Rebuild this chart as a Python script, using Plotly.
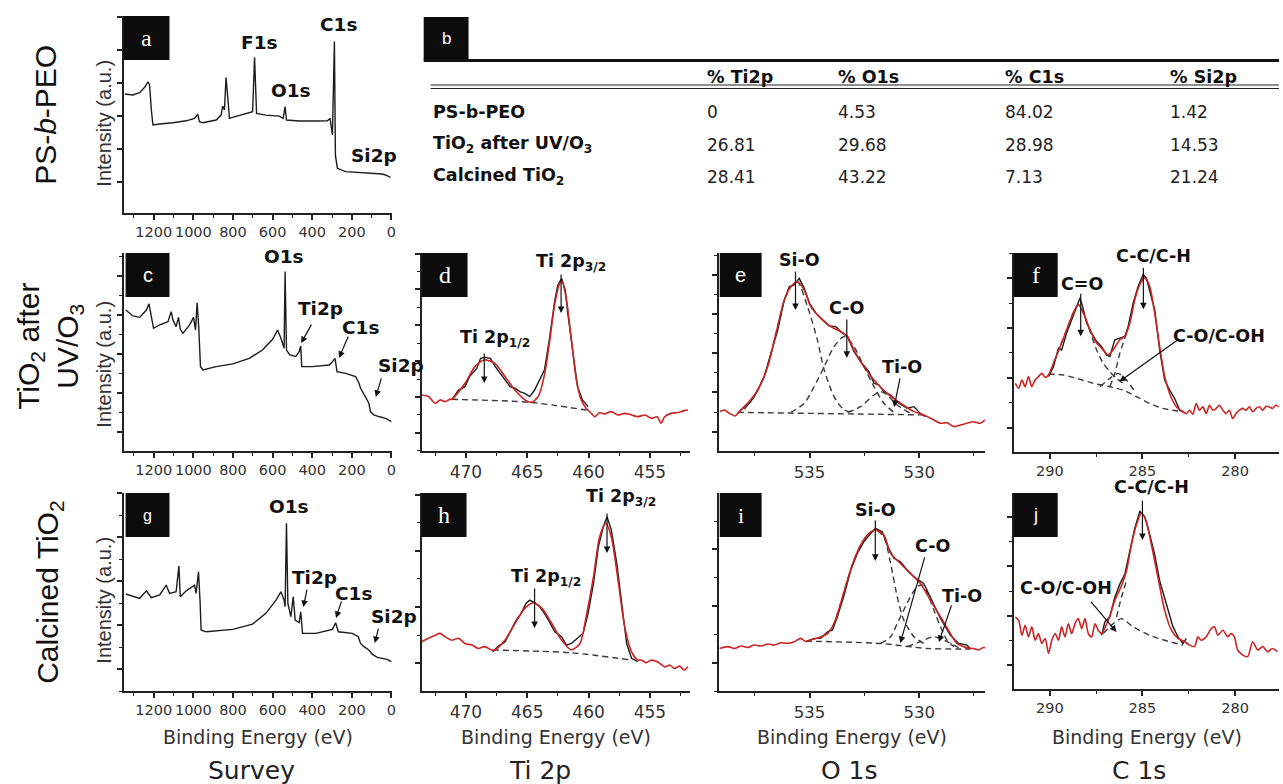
import plotly.graph_objects as go

W, H = 1283, 784

# ---------------- Survey spectra (binding energy in eV, intensity a.u.) ----------------
survey_a_ev = [1346, 1305, 1271, 1246, 1229, 1221, 1212, 1204, 1170, 1103, 1036, 994, 978, 969, 952, 885, 860, 852, 843, 835,
               825, 818, 802, 734, 701, 691, 681, 634, 567, 547, 537, 530, 466, 382, 324, 310, 298, 293, 288, 283,
               273, 231, 131, 47, 30, 5]
survey_a_int = [60.4, 59.9, 61.1, 63.8, 66.6, 65.0, 52.3, 44.7, 45.2, 45.8, 46.8, 48.0, 50.2, 46.3, 45.8, 47.2, 49.7, 54.3, 52.3, 68.8,
                57.3, 48.0, 48.5, 50.6, 51.4, 79.0, 50.6, 49.7, 49.2, 48.0, 54.0, 47.2, 46.7, 46.7, 46.8, 48.0, 39.6, 63.3, 87.0, 29.4,
                22.7, 21.0, 20.5, 19.8, 19.3, 18.1]

survey_c_ev = [1341, 1305, 1271, 1237, 1224, 1212, 1201, 1170, 1128, 1112, 1103, 1087, 1075, 1066, 1053, 1019, 999, 989, 981, 973,
               964, 952, 885, 801, 718, 651, 600, 575, 558, 542, 537, 530, 513, 483, 466, 458, 453, 399, 315, 298,
               285, 275, 231, 181, 164, 156, 131, 114, 106, 89, 64, 30, 0]
survey_c_int = [71.2, 68.2, 67.5, 71.2, 74.3, 67.9, 62.0, 63.7, 65.3, 70.4, 66.2, 62.8, 67.5, 61.5, 59.4, 63.7, 67.5, 61.1, 74.9, 62.8,
                42.6, 40.9, 42.6, 44.0, 46.8, 51.0, 56.4, 61.1, 56.9, 51.9, 90.6, 51.0, 48.5, 47.7, 50.2, 53.0, 42.6, 42.6, 43.4, 45.1,
                46.8, 40.1, 39.2, 37.6, 34.2, 31.7, 27.5, 24.1, 19.9, 18.2, 17.4, 16.5, 14.8]

survey_g_ev = [1341, 1305, 1271, 1237, 1212, 1170, 1137, 1120, 1087, 1073, 1066, 1036, 994, 986, 974, 966, 961, 936, 801, 701,
               634, 583, 558, 542, 537, 530, 523, 508, 496, 486, 466, 458, 449, 382, 298, 282, 268, 198, 168, 156,
               139, 114, 97, 72, 47, 22, 0]
survey_g_int = [49.0, 48.0, 46.8, 50.6, 47.1, 48.5, 53.5, 49.3, 50.1, 63.1, 47.6, 50.6, 53.5, 49.3, 60.2, 45.1, 30.8, 29.9, 31.1, 33.8,
                39.2, 45.9, 50.1, 45.9, 42.6, 84.7, 44.2, 37.5, 47.6, 35.8, 34.5, 40.0, 29.1, 29.1, 31.1, 34.5, 29.9, 29.1, 27.4, 24.0,
                22.4, 20.7, 18.6, 17.0, 16.5, 16.0, 14.8]

# ---------------- Ti 2p (d: after UV/O3, h: calcined) ----------------
d_red_ev = [473.6, 473.05, 472.5, 472.1, 471.7, 471.3, 471.15, 470.07, 469.26, 468.5, 467.63, 466.82, 466.0, 465.19, 464.65, 464.1,
            463.57, 463.16, 462.75, 462.35, 462.16, 461.8, 461.4, 461.0, 460.6, 460.2, 459.77, 459.5, 459.1, 458.7, 458.15, 457.6,
            457.06, 456.5, 456.0, 455.4, 454.9, 454.4, 454.1, 453.8, 453.3, 452.7, 452.2, 451.9]
d_red_int = [28.3, 27.5, 24.1, 25.8, 24.9, 26.1, 26.1, 34.2, 42.6, 46.0, 44.3, 37.6, 30.8, 25.8, 24.6, 27.5,
             39.2, 56.1, 74.6, 84.7, 85.5, 76.3, 56.1, 35.9, 25.8, 21.6, 19.0, 17.3, 19.4, 18.7, 19.9, 18.2,
             19.0, 18.2, 17.3, 18.2, 16.5, 17.3, 14.0, 17.3, 19.0, 19.4, 20.4, 20.7]
d_raw_ev = [471.15, 470.6, 470.07, 469.7, 469.1, 468.8, 468.4, 468.0, 467.6, 467.2, 466.8, 466.4, 466.0, 465.6, 465.2, 464.8,
            464.4, 464.0, 463.6, 463.2, 462.75, 462.5, 462.2, 461.9, 461.7, 461.3, 460.9, 460.5, 460.04]
d_raw_int = [25.8, 30.8, 32.5, 37.6, 41.8, 46.8, 47.3, 46.8, 42.6, 39.2, 35.9, 32.5, 31.7, 30.0, 29.1, 27.5,
             30.8, 35.9, 40.9, 56.1, 76.3, 83.9, 87.2, 81.3, 69.6, 51.0, 32.5, 25.8, 22.4]
d_base_ev = [471.15, 464.8, 460.2]
d_base_int = [26.1, 24.6, 20.7]

h_red_ev = [473.6, 473.05, 472.5, 472.1, 471.7, 471.15, 470.6, 470.07, 469.5, 469.0, 468.45, 467.9, 467.63, 466.8, 466.0, 465.2,
            464.5, 463.8, 463.0, 462.2, 461.4, 460.7, 460.2, 459.6, 459.1, 458.6, 458.15, 457.6, 457.06, 456.5, 456.0, 455.7,
            455.3, 454.9, 454.4, 453.8, 453.4, 453.0, 452.6, 452.2, 451.9]
h_red_int = [24.9, 26.6, 28.2, 29.1, 27.4, 25.7, 26.6, 24.0, 23.2, 21.5, 22.4, 20.7, 20.7, 25.7, 34.1, 41.7,
             44.6, 41.7, 34.1, 25.7, 20.7, 24.0, 37.5, 57.7, 77.9, 84.7, 77.9, 56.0, 32.5, 19.8, 15.6, 15.6,
             14.3, 15.6, 14.8, 12.2, 13.1, 11.4, 12.6, 10.6, 12.2]
h_raw_ev = [467.8, 467.4, 466.8, 466.3, 465.9, 465.5, 465.1, 464.8, 464.4, 464.0, 463.6, 463.2, 462.75, 462.2, 461.8, 461.4,
            460.9, 460.45, 460.04, 459.6, 459.2, 458.8, 458.5, 458.15, 457.7, 457.3, 456.9, 456.5, 456.0]
h_raw_int = [19.8, 22.4, 24.9, 30.8, 35.8, 39.2, 44.2, 45.9, 44.6, 42.6, 39.2, 35.0, 29.9, 27.4, 23.2, 24.0,
             26.6, 29.1, 39.2, 54.3, 72.9, 83.0, 88.0, 81.3, 64.4, 42.6, 24.0, 16.5, 14.8]
h_base_ev = [467.8, 461.4, 456.5]
h_base_int = [20.7, 19.3, 15.6]

# ---------------- O 1s (e: after UV/O3, i: calcined) ----------------
e_red_ev = [539.1, 538.88, 538.65, 538.4, 538.2, 537.97, 537.82, 537.36, 536.91, 536.53, 536.15, 535.85, 535.55, 535.24, 534.94,
            534.49, 534.03, 533.58, 533.27, 532.97, 532.52, 532.06, 531.46, 530.85, 530.24, 529.79, 529.33, 529.03, 528.73,
            528.42, 528.12, 527.82, 527.52, 527.21, 526.99]
e_red_int = [19.9, 20.7, 19.0, 17.7, 19.9, 22.4, 24.1, 30.8, 42.6, 59.4, 76.3, 83.0, 85.5, 81.3, 72.9,
             67.0, 62.8, 60.3, 57.8, 51.0, 42.6, 35.9, 29.1, 24.1, 19.9, 18.2, 15.7, 14.0, 14.3,
             12.3, 13.1, 14.0, 14.8, 14.0, 15.7]
e_raw_ev = [538.27, 537.97, 537.74, 537.52, 537.29, 537.06, 536.76, 536.45, 536.15, 535.92, 535.7, 535.47, 535.24, 535.0,
            534.71, 534.41, 534.11, 533.8, 533.58, 533.27, 532.97, 532.67, 532.29, 532.06, 531.83, 531.61, 531.3, 530.92,
            530.55, 530.24, 529.94, 529.71]
e_raw_int = [19.0, 22.4, 24.1, 27.5, 32.5, 37.6, 49.4, 61.1, 76.3, 83.0, 83.9, 87.2, 82.2, 74.6,
             69.6, 66.2, 63.2, 62.8, 60.3, 57.8, 50.2, 45.1, 40.1, 34.2, 33.3, 30.0, 28.3, 24.1,
             21.6, 22.4, 19.0, 17.3]
e_base_ev = [538.27, 529.64]
e_base_int = [19.5, 18.2]
e_sio_ev = [537.97, 537.36, 536.91, 536.53, 536.15, 535.85, 535.55, 535.09, 534.64, 534.33, 533.88, 533.42, 532.97]
e_sio_int = [21.0, 30.8, 42.6, 59.4, 76.3, 83.0, 85.5, 72.9, 56.1, 40.9, 27.5, 20.7, 19.5]
e_co_ev = [535.85, 535.24, 534.79, 534.33, 533.88, 533.42, 532.97, 532.52, 532.06, 531.61, 531.15]
e_co_int = [19.5, 24.1, 32.5, 42.6, 52.7, 57.8, 52.7, 42.6, 32.5, 24.1, 19.5]
e_tio_ev = [533.27, 532.67, 532.06, 531.76, 531.46, 531.0, 530.4]
e_tio_int = [19.5, 22.4, 28.3, 30.0, 28.3, 23.2, 19.0]

i_red_ev = [539.1, 538.73, 538.42, 538.12, 537.82, 537.52, 537.21, 536.91, 536.61, 536.3, 536.0, 535.7, 535.4, 535.17, 535.09,
            534.64, 534.18, 533.88, 533.58, 533.27, 532.97, 532.67, 532.29, 531.99, 531.61, 531.3, 530.85, 530.4, 529.94,
            529.49, 529.03, 528.58, 528.27, 527.97, 527.67, 527.52, 527.29, 527.06, 526.91]
i_red_int = [21.5, 22.4, 21.5, 22.7, 22.0, 23.2, 22.7, 23.7, 23.2, 24.4, 24.0, 24.9, 26.6, 24.9, 25.4,
             26.6, 29.1, 34.1, 44.2, 56.0, 66.1, 73.7, 79.6, 81.3, 78.8, 69.5, 64.4, 59.4, 54.3,
             45.9, 37.5, 29.1, 24.0, 22.4, 21.5, 21.5, 20.7, 22.0, 21.5]
i_raw_ev = [535.17, 534.79, 534.49, 534.18, 533.95, 533.73, 533.42, 533.12, 532.82, 532.52, 532.21, 531.99, 531.68, 531.46,
            531.15, 530.85, 530.55, 530.24, 529.79, 529.41, 529.03, 528.58, 528.2, 527.82, 527.67]
i_raw_int = [24.9, 26.6, 26.6, 29.9, 30.8, 37.5, 48.5, 61.1, 69.5, 75.4, 79.6, 82.1, 80.4, 73.7,
             67.0, 65.3, 61.1, 57.7, 54.3, 45.1, 36.7, 28.2, 24.0, 23.2, 21.5]
i_base_ev = [535.17, 531.76, 529.64, 527.67]
i_base_int = [25.2, 24.0, 21.5, 21.2]
i_sio_ev = [534.64, 534.18, 533.88, 533.58, 533.27, 532.97, 532.67, 532.29, 531.99, 531.61, 531.3, 531.0, 530.7, 530.24, 529.79]
i_sio_int = [26.6, 29.1, 34.1, 44.2, 56.0, 66.1, 73.7, 79.6, 81.3, 77.9, 64.4, 47.6, 35.8, 27.4, 24.0]
i_co_ev = [531.76, 531.3, 531.0, 530.7, 530.4, 530.09, 529.86, 529.64, 529.33, 529.03, 528.73, 528.42]
i_co_int = [24.0, 27.4, 34.1, 40.9, 47.6, 52.7, 53.5, 50.1, 40.9, 32.5, 25.7, 22.4]
i_tio_ev = [530.55, 529.94, 529.33, 528.73, 528.12]
i_tio_int = [22.4, 24.9, 27.4, 24.9, 21.5]

# ---------------- C 1s (f: after UV/O3, j: calcined) ----------------
f_red_ev = [291.86, 291.68, 291.5, 291.33, 291.15, 290.97, 290.79, 290.61, 290.43, 290.25, 290.07, 289.8, 289.44, 289.09, 288.73,
            288.46, 288.19, 287.83, 287.47, 287.12, 286.85, 286.58, 286.22, 285.95, 285.68, 285.41, 285.14, 284.88, 284.61,
            284.34, 284.07, 283.8, 283.53, 283.17, 282.81, 282.63, 282.46, 282.28, 282.1, 281.92, 281.74, 281.56, 281.38,
            281.2, 281.02, 280.84, 280.66, 280.49, 280.31, 280.13, 279.95, 279.77, 279.59, 279.41, 279.23, 279.05, 278.87,
            278.69, 278.51, 278.33, 278.16, 277.98, 277.8, 277.64]
f_red_int = [34.5, 32.0, 36.2, 32.8, 37.9, 32.8, 36.2, 37.9, 39.5, 37.5, 38.7, 44.6, 53.0, 61.4, 69.9,
             74.1, 69.9, 61.4, 54.7, 51.3, 48.8, 51.3, 56.4, 58.1, 64.8, 76.6, 84.2, 87.5, 83.3,
             69.9, 53.0, 37.9, 29.4, 22.7, 20.2, 19.3, 21.0, 19.0, 24.4, 21.0, 22.7, 19.3, 23.5,
             21.0, 21.9, 23.5, 21.0, 19.3, 21.0, 16.8, 19.3, 21.0, 21.9, 21.0, 22.7, 20.2, 21.9,
             22.7, 21.0, 23.0, 22.7, 21.9, 23.5, 22.7]
f_raw_ev = [290.07, 289.8, 289.53, 289.36, 289.09, 288.82, 288.55, 288.37, 288.23, 288.01, 287.74, 287.47, 287.21, 286.94,
            286.76, 286.49, 286.22, 285.95, 285.77, 285.5, 285.23, 284.96, 284.79, 284.61, 284.34, 284.07, 283.8, 283.53,
            283.26, 282.99, 282.72]
f_raw_int = [37.9, 42.9, 52.2, 51.3, 59.8, 66.5, 73.2, 77.4, 73.2, 64.8, 59.8, 55.5, 53.0, 48.8,
             48.0, 56.4, 57.2, 58.1, 63.1, 74.9, 83.3, 89.2, 87.5, 81.6, 71.5, 51.3, 36.2, 31.1,
             26.9, 21.0, 19.7]
f_base_ev = [290.07, 289.27, 288.55, 287.65, 286.76, 286.04, 285.32, 284.61, 283.89, 283.17, 282.81]
f_base_int = [39.2, 38.7, 37.0, 34.5, 32.8, 31.1, 27.8, 24.4, 21.9, 20.7, 20.5]
f_cdo_ev = [289.8, 289.44, 289.09, 288.73, 288.46, 288.19, 287.83, 287.47, 287.12, 286.76, 286.4, 286.04]
f_cdo_int = [44.6, 53.0, 61.4, 69.9, 74.1, 69.9, 60.6, 51.3, 44.6, 40.4, 37.0, 34.5]
f_cc_ev = [286.76, 286.49, 286.22, 285.95, 285.68]
f_cc_int = [32.8, 39.5, 49.6, 57.2, 64.8]
f_coh_ev = [287.29, 286.76, 286.31, 285.86, 285.41]
f_coh_int = [32.8, 37.0, 39.5, 36.2, 30.3]

j_red_ev = [291.86, 291.68, 291.5, 291.33, 291.15, 290.97, 290.79, 290.61, 290.43, 290.25, 290.07, 289.89, 289.71, 289.53,
            289.36, 289.18, 289.0, 288.82, 288.64, 288.46, 288.28, 288.1, 287.92, 287.74, 287.56, 287.38, 287.2, 286.85,
            286.49, 286.13, 285.86, 285.59, 285.32, 285.05, 284.79, 284.52, 284.16, 283.8, 283.44, 283.08, 282.72, 282.46,
            282.19, 282.01, 281.83, 281.56, 281.29, 281.11, 280.93, 280.66, 280.4, 280.22, 280.04, 279.86, 279.59, 279.32,
            279.05, 278.78, 278.51, 278.24, 277.98, 277.71]
j_red_int = [36.7, 35.0, 27.4, 32.5, 26.6, 31.7, 24.9, 28.3, 23.2, 25.8, 18.2, 24.9, 28.3, 24.9,
             31.7, 26.6, 33.3, 28.3, 33.3, 35.9, 30.8, 35.9, 28.3, 26.6, 33.3, 30.0, 28.3, 35.0,
             45.1, 52.7, 60.3, 73.8, 83.9, 89.8, 85.5, 73.8, 56.9, 40.1, 30.0, 25.8, 24.1, 22.4,
             21.6, 26.6, 24.9, 26.6, 30.8, 31.7, 27.4, 30.0, 26.6, 28.3, 26.6, 19.9, 17.3, 16.5,
             24.1, 19.9, 21.6, 19.0, 20.7, 19.0]
j_raw_ev = [287.2, 287.03, 286.76, 286.49, 286.22, 285.95, 285.68, 285.41, 285.14, 284.88, 284.61, 284.34, 284.07, 283.71,
            283.53, 283.35, 283.08, 282.81, 282.63]
j_raw_int = [27.4, 34.2, 36.7, 46.8, 53.5, 58.6, 70.4, 82.2, 90.6, 88.1, 78.8, 68.7, 55.2, 43.4,
             37.5, 31.7, 26.6, 23.2, 25.8]
j_coh_ev = [287.12, 286.58, 286.13, 285.5, 284.61, 283.71, 282.81]
j_coh_int = [28.3, 33.3, 35.9, 31.7, 27.4, 24.6, 22.4]
j_cc_ev = [286.4, 286.13, 285.86]
j_cc_int = [36.7, 46.8, 55.2]

# ---------------- Table (panel b) ----------------
table_cols = ["% Ti2p", "% O1s", "% C1s", "% Si2p"]
table_rows = ["PS-b-PEO", "TiO<sub>2</sub> after UV/O<sub>3</sub>", "Calcined TiO<sub>2</sub>"]
table_vals = [["0", "4.53", "84.02", "1.42"],
              ["26.81", "29.68", "28.98", "14.53"],
              ["28.41", "43.22", "7.13", "21.24"]]

row_titles = ["PS-<i>b</i>-PEO", "TiO<sub>2</sub> after<br>UV/O<sub>3</sub>", "Calcined TiO<sub>2</sub>"]
col_titles = ["Survey", "Ti 2p", "O 1s", "C 1s"]

# ---------------- styling ----------------
RED = "#cc2424"
BLK = "#1c1c1c"
DSH = "#3a3a3a"
DJ = "DejaVu Sans"
LIB = "Liberation Sans, Arial, sans-serif"
SER = "Liberation Serif, Times New Roman, serif"


def px(x):
    return x / W


def py(y):
    return 1 - y / H


fig = go.Figure()


def ax_names(n):
    return ("x" if n == 1 else f"x{n}", "y" if n == 1 else f"y{n}")


def add_line(n, xs, ys, color, width, dash=None, spline=False):
    xa, ya = ax_names(n)
    fig.add_trace(go.Scatter(
        x=xs, y=ys, mode="lines", xaxis=xa, yaxis=ya,
        line=dict(color=color, width=width, dash=dash,
                  shape="spline" if spline else "linear",
                  smoothing=0.7 if spline else None),
        hoverinfo="skip", showlegend=False))


# panel specs: n, x-domain px, y-domain px, x-range, dtick, minor dtick, y tick0, y dtick, y minor, tick font
specs = [
    (1, (124, 393), (16, 213), [1352, -1.5], 200, 100, 15.9, 16.75, None, 14.5),
    (2, (124, 393), (253, 451), [1352, -1.5], 200, 100, 9.6, 19.7, 9.85, 14.5),
    (3, (124, 393), (493, 691), [1352, -1.5], 200, 100, 11.1, 22.2, 11.1, 14.5),
    (4, (423, 692), (253, 451), [473.6, 451.75], 5, 2.5, 9.2, 18.1, 9.05, 17),
    (5, (423, 692), (493, 691), [473.6, 451.75], 5, 2.5, 14.0, 28.4, 14.2, 17),
    (6, (721, 988), (253, 451), [539.14, 527.0], 5, 2.5, 9.75, 19.8, 9.9, 16.5),
    (7, (721, 988), (493, 691), [539.14, 527.0], 5, 2.5, 14.3, 28.6, 14.3, 16.5),
    (8, (1017, 1283), (253, 452), [291.94, 277.63], 5, 2.5, 12.3, 25.0, 12.5, 14.5),
    (9, (1017, 1283), (493, 689), [291.94, 277.63], 5, 2.5, 12.2, 25.2, 12.6, 14.5),
]

layout_axes = {}
for n, xd, yd, xr, dt, mdt, yt0, ydt, ymdt, tfs in specs:
    xa, ya = ax_names(n)
    xkey = "xaxis" if n == 1 else f"xaxis{n}"
    ykey = "yaxis" if n == 1 else f"yaxis{n}"
    layout_axes[xkey] = dict(
        domain=[px(xd[0]), px(xd[1])], range=xr, anchor=ya,
        showline=True, linecolor="#222", linewidth=2, mirror=False,
        ticks="outside", ticklen=5, tickwidth=1.5, tickcolor="#222",
        tick0=0, dtick=dt, tickangle=0, showgrid=False, zeroline=False,
        tickfont=dict(family=DJ, size=tfs, color="#333"),
        minor=dict(dtick=mdt, ticks="outside", ticklen=3, tickwidth=1.2,
                   tickcolor="#222", showgrid=False),
        fixedrange=True)
    ydict = dict(
        domain=[py(yd[1]), py(yd[0])], range=[0, 100], anchor=xa,
        showline=True, linecolor="#222", linewidth=2, mirror=False,
        ticks="outside", ticklen=5, tickwidth=1.5, tickcolor="#222",
        tick0=yt0, dtick=ydt, showticklabels=False, showgrid=False,
        zeroline=False, fixedrange=True)
    if ymdt:
        ydict["minor"] = dict(tick0=yt0, dtick=ymdt, ticks="outside", ticklen=3,
                              tickwidth=1.2, tickcolor="#222", showgrid=False)
    layout_axes[ykey] = ydict

# ---------------- traces ----------------
add_line(1, survey_a_ev, survey_a_int, BLK, 1.4)
add_line(2, survey_c_ev, survey_c_int, BLK, 1.4)
add_line(3, survey_g_ev, survey_g_int, BLK, 1.4)

# Ti 2p
add_line(4, d_base_ev, d_base_int, DSH, 1.4, dash="6px,4px", spline=True)
add_line(4, d_raw_ev, d_raw_int, BLK, 1.4)
add_line(4, d_red_ev, d_red_int, RED, 1.6, spline=True)
add_line(5, h_base_ev, h_base_int, DSH, 1.4, dash="6px,4px", spline=True)
add_line(5, h_raw_ev, h_raw_int, BLK, 1.4)
add_line(5, h_red_ev, h_red_int, RED, 1.6, spline=True)

# O 1s
for xs, ys in [(e_base_ev, e_base_int), (e_sio_ev, e_sio_int), (e_co_ev, e_co_int), (e_tio_ev, e_tio_int)]:
    add_line(6, xs, ys, DSH, 1.4, dash="6px,4px", spline=True)
add_line(6, e_raw_ev, e_raw_int, BLK, 1.4)
add_line(6, e_red_ev, e_red_int, RED, 1.6, spline=True)
for xs, ys in [(i_base_ev, i_base_int), (i_sio_ev, i_sio_int), (i_co_ev, i_co_int), (i_tio_ev, i_tio_int)]:
    add_line(7, xs, ys, DSH, 1.4, dash="6px,4px", spline=True)
add_line(7, i_raw_ev, i_raw_int, BLK, 1.4)
add_line(7, i_red_ev, i_red_int, RED, 1.6, spline=True)

# C 1s
for xs, ys in [(f_base_ev, f_base_int), (f_cdo_ev, f_cdo_int), (f_cc_ev, f_cc_int), (f_coh_ev, f_coh_int)]:
    add_line(8, xs, ys, DSH, 1.4, dash="6px,4px", spline=True)
add_line(8, f_raw_ev, f_raw_int, BLK, 1.4)
add_line(8, f_red_ev, f_red_int, RED, 1.6, spline=True)
for xs, ys in [(j_coh_ev, j_coh_int), (j_cc_ev, j_cc_int)]:
    add_line(9, xs, ys, DSH, 1.4, dash="6px,4px", spline=True)
add_line(9, j_raw_ev, j_raw_int, BLK, 1.4)
add_line(9, j_red_ev, j_red_int, RED, 1.6, spline=True)

annotations = []
shapes = []


def label(n, text, x, y, size=17.5, xanchor="center", yanchor="middle"):
    xa, ya = ax_names(n)
    annotations.append(dict(xref=xa, yref=ya, x=x, y=y, text=text, showarrow=False,
                            xanchor=xanchor, yanchor=yanchor,
                            font=dict(family=DJ, size=size, color="#111", weight="bold")))


def arrow(n, tail, head):
    xa, ya = ax_names(n)
    annotations.append(dict(xref=xa, yref=ya, axref=xa, ayref=ya, x=head[0], y=head[1],
                            ax=tail[0], ay=tail[1], text="", showarrow=True,
                            arrowhead=2, arrowsize=1.1, arrowwidth=1.2, arrowcolor="#111",
                            standoff=0, startstandoff=0))


# Survey labels
label(1, "F1s", 667, 86.8, 18.5)
label(1, "C1s", 265, 95.9, 18.5)
label(1, "O1s", 506, 62.4, 18.5)
label(1, "Si2p", 89, 29.4, 18.5)

label(2, "O1s", 542, 98.0, 18.5)
label(2, "Ti2p", 356, 72.2, 18.5)
label(2, "C1s", 154, 62.6, 18.5)
label(2, "Si2p", 79, 43.4, 18.5, xanchor="left")
arrow(2, (400, 64.6), (456, 54.5))
arrow(2, (215, 58.6), (265, 47.0))
arrow(2, (49, 37.4), (79, 27.3))

label(3, "O1s", 515, 93.4, 18.5)
label(3, "Ti2p", 391, 57.1, 18.5)
label(3, "C1s", 190, 49.0, 18.5)
label(3, "Si2p", 114, 37.4, 18.5, xanchor="left")
arrow(3, (425, 52.0), (445, 42.4))
arrow(3, (250, 46.0), (280, 36.9))
arrow(3, (64, 32.3), (84, 24.2))

# Ti 2p labels
label(4, "Ti 2p<sub>3/2</sub>", 461.4, 95.0)
arrow(4, (462.24, 89.9), (462.24, 69.7))
label(4, "Ti 2p<sub>1/2</sub>", 467.6, 56.6)
arrow(4, (468.5, 50.0), (468.5, 34.3))
label(5, "Ti 2p<sub>3/2</sub>", 457.4, 97.5)
arrow(5, (458.5, 90.4), (458.5, 69.7))
label(5, "Ti 2p<sub>1/2</sub>", 463.5, 57.1)
arrow(5, (464.4, 52.5), (464.4, 31.8))

# O 1s labels
label(6, "Si-O", 535.45, 96.5)
arrow(6, (535.64, 91.4), (535.64, 71.2))
label(6, "C-O", 533.3, 72.2)
arrow(6, (533.3, 67.2), (533.3, 47.0))
label(6, "Ti-O", 530.8, 42.4)
arrow(6, (530.86, 37.4), (531.14, 22.2))
label(7, "Si-O", 532.0, 91.4)
arrow(7, (532.0, 86.9), (532.0, 65.7))
label(7, "C-O", 529.4, 73.2)
arrow(7, (529.73, 68.2), (530.86, 24.2))
label(7, "Ti-O", 528.05, 48.0)
arrow(7, (528.5, 44.0), (529.1, 24.7))

# C 1s labels
label(8, "C-C/C-H", 284.4, 98.5)
arrow(8, (284.95, 93.4), (284.95, 71.7))
label(8, "C=O", 288.28, 84.3)
arrow(8, (288.33, 80.3), (288.33, 58.1))
label(8, "C-O/C-OH", 280.86, 58.1)
arrow(8, (283.06, 56.6), (286.24, 35.4))
label(9, "C-C/C-H", 284.5, 96.8, yanchor="bottom")
arrow(9, (285.0, 96.8), (285.0, 76.0))
label(9, "C-O/C-OH", 289.1, 51.5)
arrow(9, (287.85, 45.4), (286.4, 29.1))

# panel letter boxes (pixel layout positions)
boxes = [("a", (124, 170, 16, 60), SER, 24), ("c", (126, 170, 253, 297), LIB, 20),
         ("g", (126, 170, 493, 537), LIB, 16), ("d", (423, 469, 253, 297), SER, 24),
         ("h", (423, 468, 493, 537), SER, 24), ("e", (722, 764, 253, 297), LIB, 20),
         ("i", (722, 764, 493, 537), SER, 22), ("f", (1017, 1061, 253, 297), SER, 24),
         ("j", (1017, 1061, 493, 537), LIB, 18), ("b", (425, 470, 17, 60), LIB, 17)]
for letter, (x0, x1, y0, y1), fam, fs in boxes:
    shapes.append(dict(type="rect", xref="paper", yref="paper", x0=px(x0), x1=px(x1),
                       y0=py(y1), y1=py(y0), fillcolor="#0c0c0c", line=dict(width=0), layer="above"))
    annotations.append(dict(xref="paper", yref="paper", x=px((x0 + x1) / 2), y=py((y0 + y1) / 2),
                            text=letter, showarrow=False, xanchor="center", yanchor="middle",
                            font=dict(family=fam, size=fs, color="white")))

# table b
shapes.append(dict(type="line", xref="paper", yref="paper", x0=px(425), x1=1, y0=py(60.5), y1=py(60.5),
                   line=dict(color="#111", width=3)))
for yy in (85, 88.5):
    shapes.append(dict(type="line", xref="paper", yref="paper", x0=px(432), x1=1, y0=py(yy), y1=py(yy),
                       line=dict(color="#222", width=1.2)))
col_x = [707, 839, 1006, 1172]
row_y = [112, 144.5, 177]
TFONT = DJ
for cx, ct in zip(col_x, table_cols):
    annotations.append(dict(xref="paper", yref="paper", x=px(cx), y=py(77), text=ct, showarrow=False,
                            xanchor="left", yanchor="middle",
                            font=dict(family=TFONT, size=17.5, color="#111", weight="bold")))
for ry, rt, vals in zip(row_y, table_rows, table_vals):
    annotations.append(dict(xref="paper", yref="paper", x=px(432), y=py(ry), text=rt, showarrow=False,
                            xanchor="left", yanchor="middle",
                            font=dict(family=TFONT, size=17.5, color="#111", weight="bold")))
    for cx, v in zip(col_x, vals):
        annotations.append(dict(xref="paper", yref="paper", x=px(cx), y=py(ry), text=v, showarrow=False,
                                xanchor="left", yanchor="middle",
                                font=dict(family=TFONT, size=17, color="#222")))

# row titles (left)
for (xc, yc), t in zip([(46, 115), (50, 346), (49, 592)], row_titles):
    annotations.append(dict(xref="paper", yref="paper", x=px(xc), y=py(yc), text=t, showarrow=False,
                            textangle=-90, xanchor="center", yanchor="middle",
                            font=dict(family=LIB, size=30, color="#111")))

# y axis titles
for yc in (123, 364, 600):
    annotations.append(dict(xref="paper", yref="paper", x=px(104), y=py(yc), text="Intensity (a.u.)",
                            showarrow=False, textangle=-90, xanchor="center", yanchor="middle",
                            font=dict(family=LIB, size=20, color="#333")))

# x axis titles and column titles
for xc in [259, 558, 855, 1151]:
    annotations.append(dict(xref="paper", yref="paper", x=px(xc), y=py(737), text="Binding Energy (eV)",
                            showarrow=False, xanchor="center", yanchor="middle",
                            font=dict(family=DJ, size=19, color="#333")))
for xc, ct in zip([252, 542, 852, 1143], col_titles):
    annotations.append(dict(xref="paper", yref="paper", x=px(xc), y=py(770), text=ct,
                            showarrow=False, xanchor="center", yanchor="middle",
                            font=dict(family=DJ, size=25, color="#222")))

fig.update_layout(
    width=W, height=H, margin=dict(l=0, r=0, t=0, b=0),
    paper_bgcolor="white", plot_bgcolor="white",
    showlegend=False, annotations=annotations, shapes=shapes,
    **layout_axes)

fig.write_html("out.html", config={"displayModeBar": False},
               post_script="document.body.style.margin='0px';document.body.style.overflow='hidden';")
